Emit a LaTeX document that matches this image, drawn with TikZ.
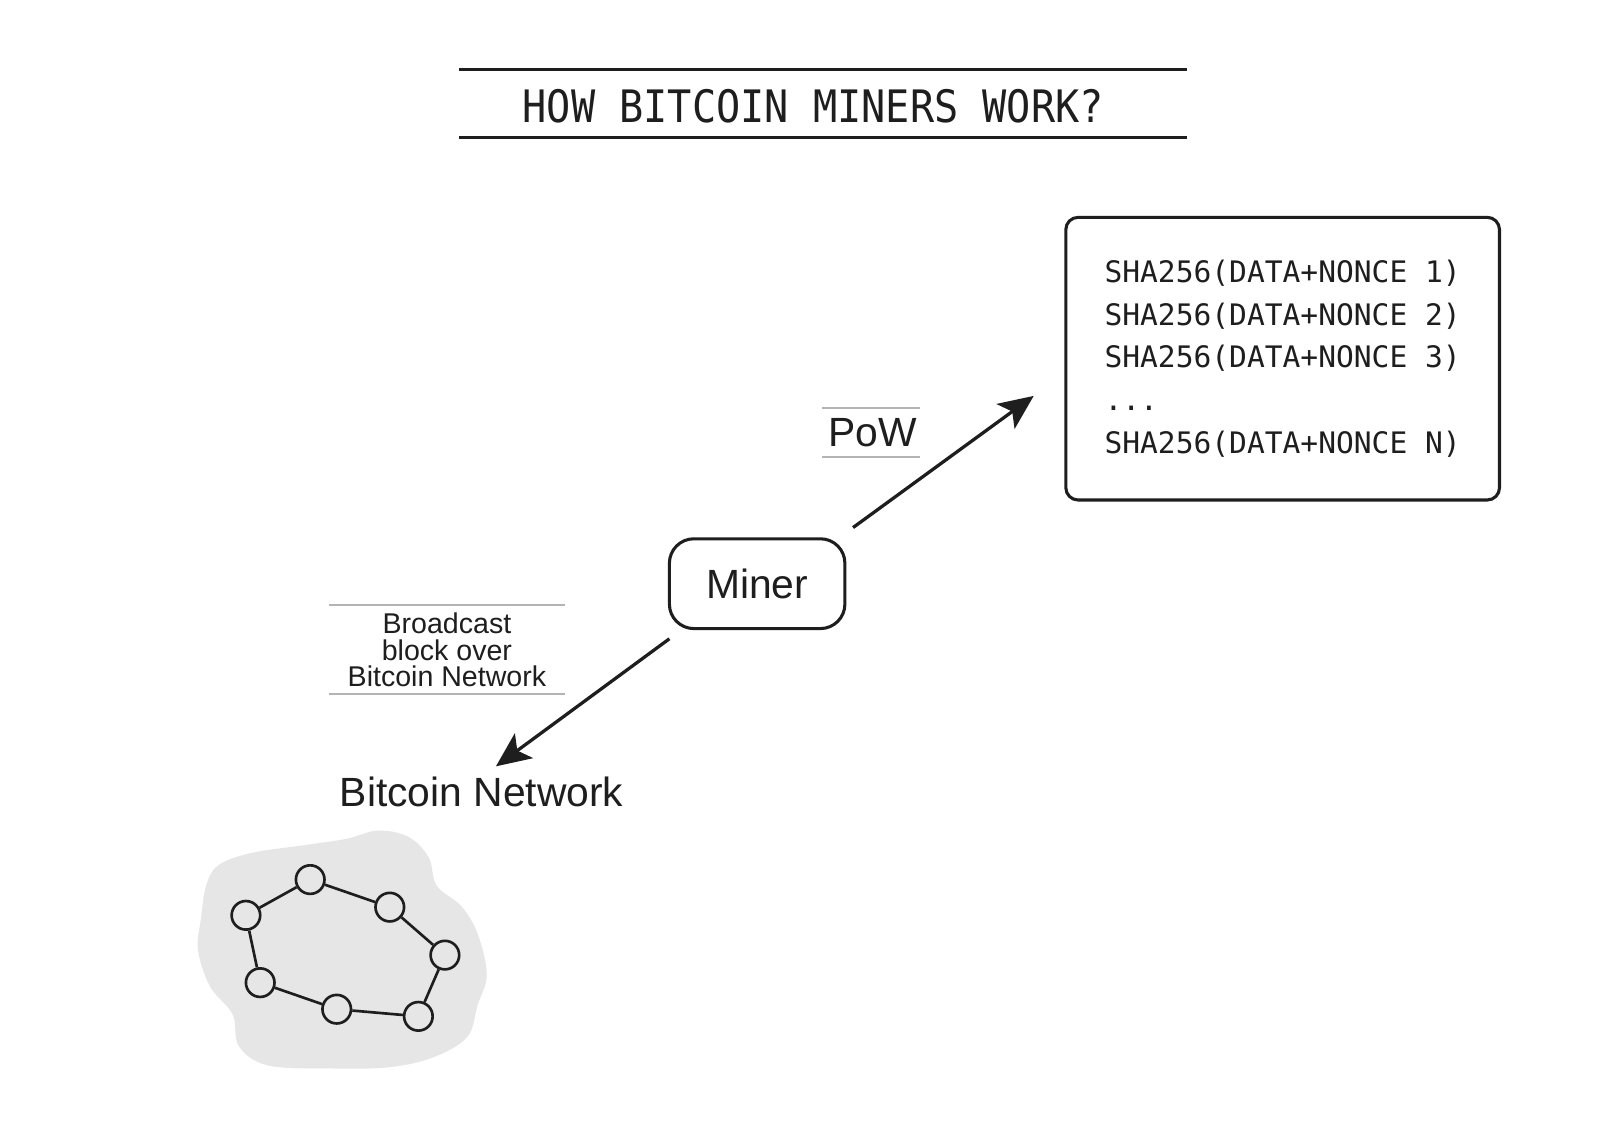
\documentclass[tikz,border=0pt]{standalone}
\usepackage{fontspec}
\setmainfont{Liberation Sans}
\newfontfamily\titlemono[FakeStretch=0.9]{DejaVu Sans Mono}
\newfontfamily\boxmono{DejaVu Sans Mono}
\usetikzlibrary{arrows.meta}
\definecolor{ink}{HTML}{1E1E1E}
\definecolor{rulegray}{HTML}{B4B4B4}
\definecolor{cloudgray}{HTML}{E6E6E6}
\tikzset{
  ink line/.style={draw=ink, line width=1.5pt},
  flow arrow/.style={draw=ink, line width=1.6pt, -{Stealth[length=17pt,width=15pt,inset=4pt]}},
  label rule/.style={draw=rulegray, line width=0.8pt},
  title rule/.style={draw=ink, line width=1.3pt},
  peer/.style={circle, draw=ink, line width=1.3pt, fill=cloudgray, minimum size=14pt, inner sep=0pt},
  peer link/.style={draw=ink, line width=1.3pt},
}
\begin{document}
\begin{tikzpicture}[x=0.5pt,y=-0.5pt]
\fill[white] (0,0) rectangle (1568,1108);
\useasboundingbox (0,0) rectangle (1568,1108);

% title
\coordinate (t1a) at (450,68); \coordinate (t1b) at (1163,68);
\coordinate (t2a) at (450,135); \coordinate (t2b) at (1163,135);
\draw[title rule] (t1a) -- (t1b);
\draw[title rule] (t2a) -- (t2b);
\node[text=ink, font={\titlemono\fontsize{21.9}{24}\selectfont}] (title) at (797,104) {HOW BITCOIN MINERS WORK?};

% hash box
\node[ink line, rounded corners=6pt, minimum width=212.5pt, minimum height=138.5pt,
      align=left, text=ink, font={\boxmono\fontsize{14.5}{21}\selectfont}] (sha) at (1257,351.5)
  {SHA256(DATA+NONCE 1)\\SHA256(DATA+NONCE 2)\\SHA256(DATA+NONCE 3)\\...\\SHA256(DATA+NONCE N)};

% miner
\node[ink line, rounded corners=12pt, minimum width=86pt, minimum height=44pt,
      text=ink, font={\fontsize{20}{24}\selectfont}] (miner) at (742,572) {Miner};

% PoW label
\node[text=ink, font={\fontsize{20}{24}\selectfont}] (pow) at (855,424) {PoW};
\coordinate (p1a) at (806,400); \coordinate (p1b) at (902,400);
\coordinate (p2a) at (806,448); \coordinate (p2b) at (902,448);
\draw[label rule] (p1a) -- (p1b);
\draw[label rule] (p2a) -- (p2b);

% arrows
\coordinate (powstart) at (836,517);
\coordinate (powend) at (1013,388);
\draw[flow arrow] (powstart) -- (powend);
\coordinate (bcstart) at (656,626);
\coordinate (bcend) at (486,751);
\draw[flow arrow] (bcstart) -- (bcend);

% broadcast label
\node[text=ink, align=center, font={\fontsize{14}{13}\selectfont}] (bclabel) at (438,637)
  {Broadcast\\block over\\Bitcoin Network};
\coordinate (b1a) at (322,593); \coordinate (b1b) at (554,593);
\coordinate (b2a) at (322,680); \coordinate (b2b) at (554,680);
\draw[label rule] (b1a) -- (b1b);
\draw[label rule] (b2a) -- (b2b);

% network label
\node[text=ink, font={\fontsize{20}{24}\selectfont}] (netlabel) at (472,776) {Bitcoin Network};

% cloud
\fill[cloudgray] plot[smooth cycle, tension=0.6] coordinates {
  (194,931) (206,967) (228,994) (234,1025) (262,1044) (320,1047) (380,1046) (425,1036)
  (458,1016) (468,985) (477,955) (468,915) (452,888) (428,868) (420,840) (400,820) (370,814)
  (340,822) (300,828) (246,836) (214,848) (202,868) (197,900)};

% peers
\node[peer] (n1) at (304,862) {};
\node[peer] (n2) at (241,897) {};
\node[peer] (n3) at (382,889) {};
\node[peer] (n4) at (436,936) {};
\node[peer] (n5) at (255,963) {};
\node[peer] (n6) at (330,989) {};
\node[peer] (n7) at (410,996) {};
\draw[peer link] (n1) -- (n2);
\draw[peer link] (n1) -- (n3);
\draw[peer link] (n3) -- (n4);
\draw[peer link] (n4) -- (n7);
\draw[peer link] (n7) -- (n6);
\draw[peer link] (n6) -- (n5);
\draw[peer link] (n5) -- (n2);
\end{tikzpicture}
\end{document}
